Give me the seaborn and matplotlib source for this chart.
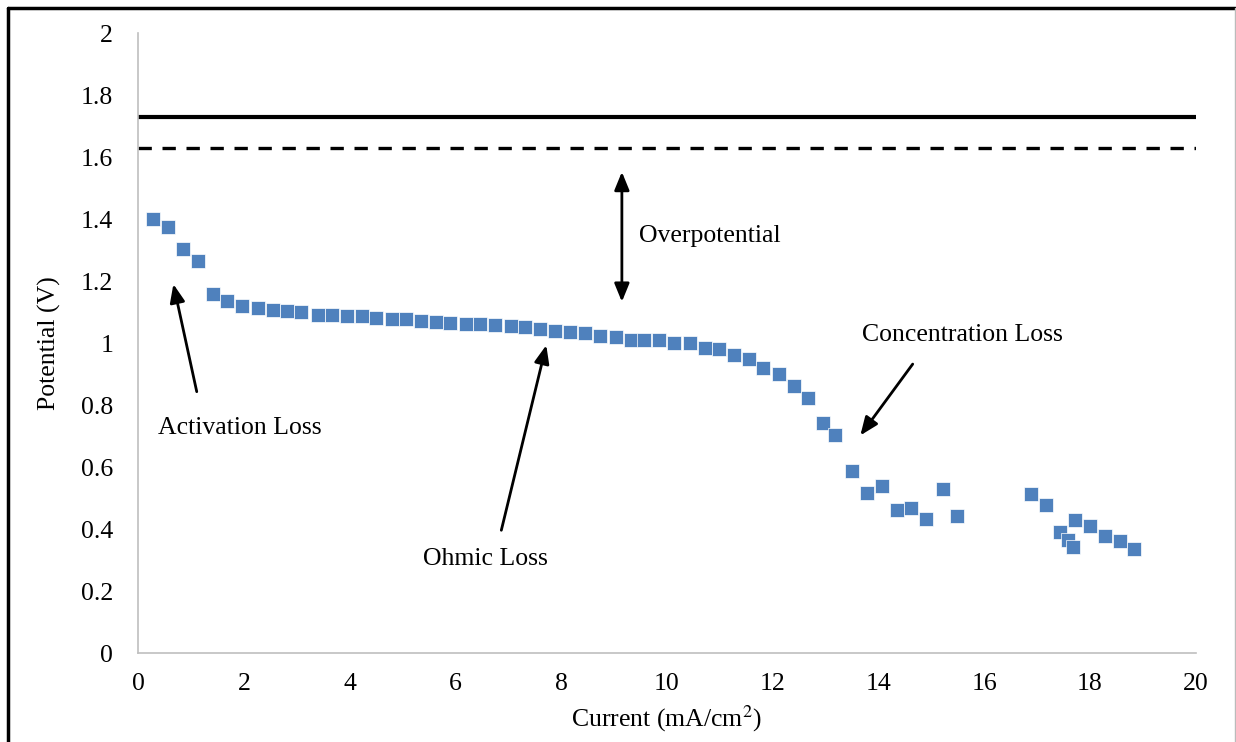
import numpy as np
import matplotlib
matplotlib.use("Agg")
import matplotlib.pyplot as plt
from matplotlib.lines import Line2D
import seaborn as sns

# Polarization curve data
current = [0.28, 0.57, 0.85, 1.14, 1.41, 1.69, 1.97, 2.26, 2.55, 2.81,
           3.09, 3.41, 3.66, 3.95, 4.24, 4.50, 4.81, 5.06, 5.35, 5.64,
           5.89, 6.20, 6.47, 6.75, 7.05, 7.32, 7.60, 7.89, 8.16, 8.46,
           8.74, 9.03, 9.32, 9.57, 9.86, 10.14, 10.43, 10.73, 10.98, 11.27,
           11.55, 11.81, 12.12, 12.41, 12.67, 12.96, 13.19, 13.50, 13.78, 14.07,
           14.35, 14.62, 14.91, 15.22, 15.48, 16.89, 17.17, 17.43, 17.59, 17.69,
           17.72, 18.01, 18.29, 18.58, 18.84]
potential = [1.402, 1.375, 1.304, 1.265, 1.160, 1.137, 1.121, 1.113, 1.108, 1.104,
             1.100, 1.091, 1.090, 1.087, 1.087, 1.082, 1.077, 1.077, 1.073, 1.068,
             1.065, 1.063, 1.061, 1.059, 1.056, 1.052, 1.046, 1.040, 1.037, 1.032,
             1.024, 1.019, 1.011, 1.011, 1.011, 1.002, 1.002, 0.984, 0.981, 0.963,
             0.948, 0.921, 0.900, 0.863, 0.824, 0.744, 0.704, 0.588, 0.516, 0.539,
             0.463, 0.468, 0.432, 0.530, 0.442, 0.513, 0.478, 0.392, 0.365, 0.344,
             0.430, 0.411, 0.379, 0.361, 0.335]

theoretical_v = 1.73
reversible_v = 1.63

x_ticks = [0, 2, 4, 6, 8, 10, 12, 14, 16, 18, 20]
y_ticks = [0, 0.2, 0.4, 0.6, 0.8, 1, 1.2, 1.4, 1.6, 1.8, 2]
y_tick_labels = ["0", "0.2", "0.4", "0.6", "0.8", "1", "1.2", "1.4", "1.6", "1.8", "2"]

sns.set_style("white")
plt.rcParams["font.family"] = ["Liberation Serif", "DejaVu Serif"]
plt.rcParams["mathtext.fontset"] = "stix"
plt.rcParams["text.color"] = "black"
plt.rcParams["axes.labelcolor"] = "black"

fig = plt.figure(figsize=(12.36, 7.42), dpi=100)
ax = fig.add_axes([0.1117, 0.1195, 0.8556, 0.8356])

sns.scatterplot(x=current, y=potential, marker="s", s=105, color="#4F81BD",
                edgecolor="white", linewidth=0.5, ax=ax, zorder=3)

ax.axhline(theoretical_v, color="black", lw=3, zorder=2)
ax.axhline(reversible_v, color="black", lw=2.4, ls=(0, (4, 3.2)), zorder=2)

ax.set_xlim(0, 20)
ax.set_ylim(0, 2)
ax.set_xticks(x_ticks)
ax.set_yticks(y_ticks)
ax.set_yticklabels(y_tick_labels)
ax.tick_params(axis="x", direction="out", length=6, width=1, color="#BFBFBF",
               labelcolor="black", labelsize=18.5, pad=8)
ax.tick_params(axis="y", length=0, labelcolor="black", labelsize=18.5, pad=18)

for side in ["top", "right"]:
    ax.spines[side].set_visible(False)
for side in ["left", "bottom"]:
    ax.spines[side].set_color("#BFBFBF")
    ax.spines[side].set_linewidth(1.2)

ax.set_xlabel("Current (mA/cm$^2$)", fontsize=18.5, labelpad=6)
ax.set_ylabel("Potential (V)", fontsize=18.5, labelpad=14)

# annotations
head = "head_length=1.1,head_width=0.45"
arrow = dict(arrowstyle="-|>," + head, color="black", lw=2, shrinkA=0, shrinkB=0)
ax.annotate("", xy=(9.15, 1.553), xytext=(9.15, 1.134),
            arrowprops=dict(arrowstyle="<|-|>," + head, color="black", lw=2,
                            shrinkA=0, shrinkB=0))
ax.text(9.48, 1.346, "Overpotential", fontsize=18.5, va="center", ha="left")

ax.annotate("", xy=(0.668, 1.191), xytext=(1.11, 0.844), arrowprops=arrow)
ax.text(0.385, 0.726, "Activation Loss", fontsize=18.5, va="center", ha="left")

ax.annotate("", xy=(7.72, 0.994), xytext=(6.87, 0.397), arrowprops=arrow)
ax.text(5.39, 0.304, "Ohmic Loss", fontsize=18.5, va="center", ha="left")

ax.annotate("", xy=(13.66, 0.703), xytext=(14.65, 0.933), arrowprops=arrow)
ax.text(13.69, 1.027, "Concentration Loss", fontsize=18.5, va="center", ha="left")

# frame around the figure
fig.add_artist(Line2D([8 / 1236, 1235 / 1236], [1 - 8 / 742, 1 - 8 / 742],
                      color="black", lw=2.5, transform=fig.transFigure))
fig.add_artist(Line2D([8 / 1236, 8 / 1236], [0, 1 - 8 / 742],
                      color="black", lw=2.5, transform=fig.transFigure))
fig.add_artist(Line2D([1234.5 / 1236, 1234.5 / 1236], [0, 1 - 8 / 742],
                      color="#BBBBBB", lw=1, transform=fig.transFigure))

fig.savefig("out.png", dpi=100)
